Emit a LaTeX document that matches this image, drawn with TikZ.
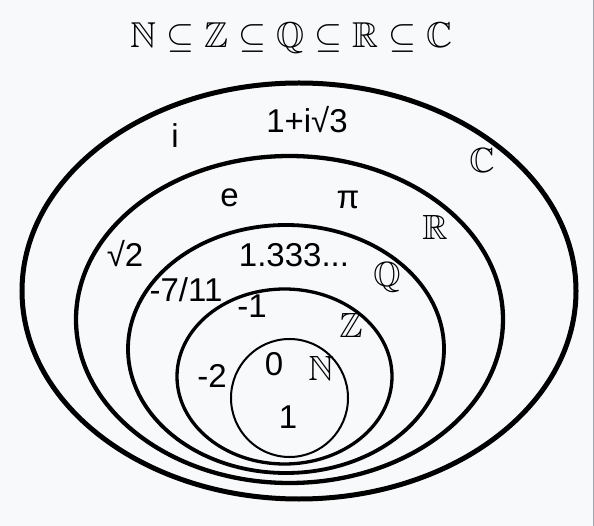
\documentclass[tikz,border=0pt]{standalone}
\usepackage{amssymb}
\usepackage{fontspec}
\setmainfont{Liberation Sans}
\definecolor{bg}{HTML}{F8F9FA}
\definecolor{edge}{HTML}{A2A9B1}
\tikzset{
  setline/.style={draw=black},
  lbl/.style={anchor=base, inner sep=0pt, font=\fontsize{33}{38}\selectfont},
  setname/.style={anchor=center, inner sep=0pt, font=\fontsize{10}{12}\selectfont, scale=3.5},
}
\begin{document}
\begin{tikzpicture}[x=1pt,y=-1pt]
\fill[bg] (0,0) rectangle (594,526);
\useasboundingbox (0,0) rectangle (594,526);
\draw[edge, line width=1.2pt] (593.4,0) -- (593.4,526);
% title
\node[anchor=base, inner sep=0pt, font=\fontsize{10}{12}\selectfont, scale=3.6] (title) at (291,48) {$\mathbb{N}\subseteq\mathbb{Z}\subseteq\mathbb{Q}\subseteq\mathbb{R}\subseteq\mathbb{C}$};
% sets
\draw[setline, line width=5pt] (299,291) ellipse [x radius=277, y radius=208];
\draw[setline, line width=4.3pt] (289.5,319.5) ellipse [x radius=213.5, y radius=163.5];
\draw[setline, line width=3.8pt] (286,349) ellipse [x radius=158, y radius=124];
\draw[setline, line width=3.3pt] (284.5,376.5) ellipse [x radius=107.5, y radius=87.5];
\draw[setline, line width=2pt] (289.5,398) ellipse [x radius=58.5, y radius=59];
% set names
\node[setname] (nC) at (482,160) {$\mathbb{C}$};
\node[setname] (nR) at (435,227.5) {$\mathbb{R}$};
\node[setname] (nQ) at (387,277.5) {$\mathbb{Q}$};
\node[setname] (nZ) at (351,325.5) {$\mathbb{Z}$};
\node[setname] (nN) at (321,368) {$\mathbb{N}$};
% elements
\node[lbl] (ei) at (175,148) {i};
\node[lbl] (ec) at (307,133) {1+i√3};
\node[lbl] (ee) at (229.5,207) {e};
\node[lbl] (epi) at (348,209) {π};
\node[lbl] (es2) at (125,267) {√2};
\node[lbl] (eq) at (294,266.5) {1.333...};
\node[lbl] (e711) at (186,302) {-7/11};
\node[lbl] (em1) at (252,318) {-1};
\node[lbl] (em2) at (212,387) {-2};
\node[lbl] (e0) at (274,375) {0};
\node[lbl] (e1) at (288,428) {1};
\end{tikzpicture}
\end{document}
